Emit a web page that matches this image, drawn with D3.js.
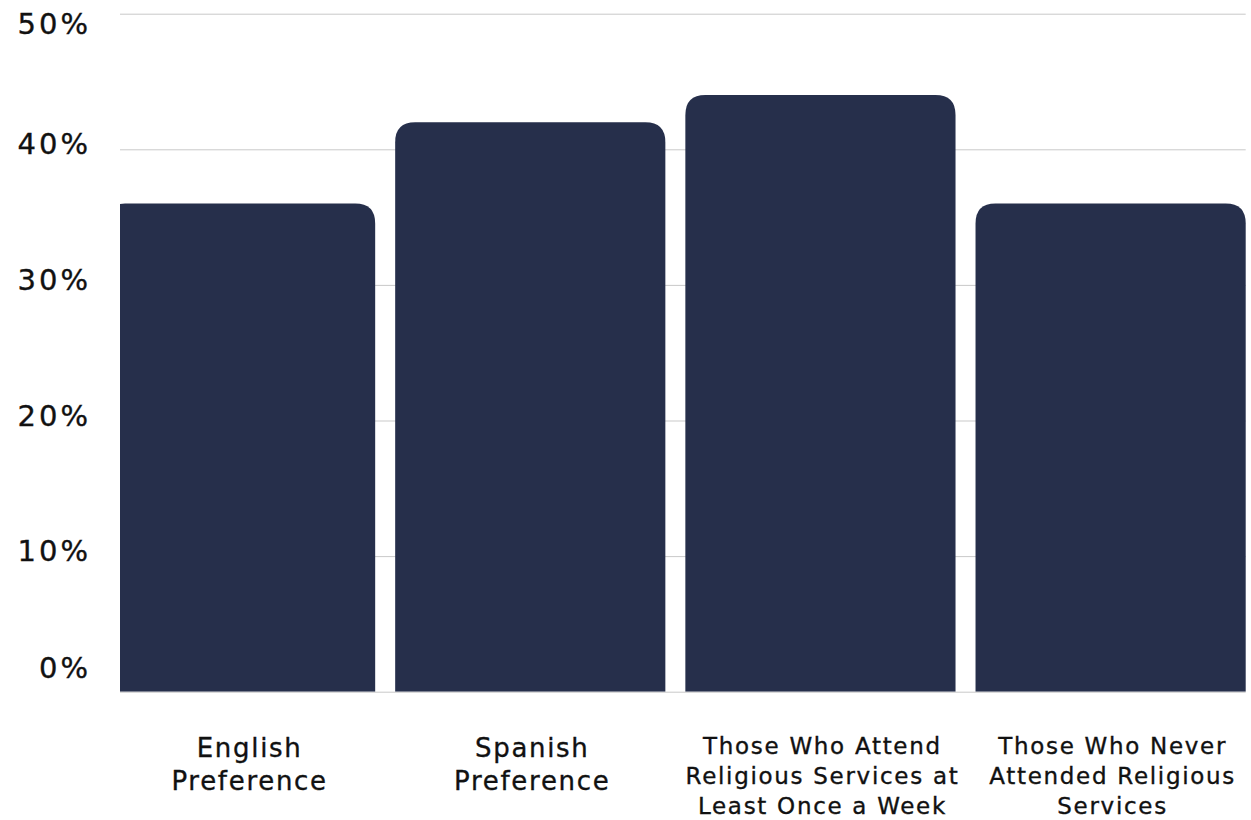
<!DOCTYPE html>
<html>
<head>
<meta charset="utf-8">
<script src="https://cdn.jsdelivr.net/npm/d3@7"></script>
<style>
  html, body { margin: 0; padding: 0; background: #ffffff; }
  svg { display: block; }
  text { font-family: "DejaVu Sans", sans-serif; fill: #111111; stroke: #111111; stroke-width: 0.35px; }
</style>
</head>
<body>
<svg id="chart" width="1251" height="820"></svg>
<script>
// ---- data ----
const categories = [
  "English Preference",
  "Spanish Preference",
  "Those Who Attend Religious Services at Least Once a Week",
  "Those Who Never Attended Religious Services"
];
const categoryLines = [
  ["English", "Preference"],
  ["Spanish", "Preference"],
  ["Those Who Attend", "Religious Services at", "Least Once a Week"],
  ["Those Who Never", "Attended Religious", "Services"]
];
const values = [36, 42, 44, 36];
const yTicks = [0, 10, 20, 30, 40, 50];
const yTickLabels = ["0%", "10%", "20%", "30%", "40%", "50%"];

// ---- layout ----
const W = 1251, H = 820;
const plotLeft = 120, plotRight = 1245.7, plotTop = 13.7, plotBottom = 691.7;
const barColor = "#262f4b";
const gridColor = "#c9c9c9";
const radius = 20;

const svg = d3.select("#chart");

const y = d3.scaleLinear().domain([0, 50]).range([plotBottom, plotTop]);
const x = d3.scaleBand()
  .domain(categories)
  .range([105, plotRight])
  .paddingInner(20 / 290.2)
  .paddingOuter(0);

// gridlines
const grid = svg.append("g")
  .attr("transform", `translate(${plotLeft},0)`)
  .call(d3.axisRight(y).tickValues(yTicks).tickSize(plotRight - plotLeft).tickFormat(""));
grid.select(".domain").remove();
grid.selectAll(".tick line").attr("stroke", gridColor).attr("stroke-width", 1);

// clip for plot area
svg.append("defs").append("clipPath").attr("id", "plotClip")
  .append("rect").attr("x", plotLeft).attr("y", 0).attr("width", plotRight - plotLeft + 1).attr("height", plotBottom);

function topRoundedPath(x0, y0, w, h, r) {
  r = Math.min(r, w / 2, h);
  return `M${x0},${y0 + h}` +
    `L${x0},${y0 + r}` +
    `Q${x0},${y0} ${x0 + r},${y0}` +
    `L${x0 + w - r},${y0}` +
    `Q${x0 + w},${y0} ${x0 + w},${y0 + r}` +
    `L${x0 + w},${y0 + h}Z`;
}

svg.append("g").attr("clip-path", "url(#plotClip)")
  .selectAll("path.bar")
  .data(values)
  .join("path")
  .attr("class", "bar")
  .attr("fill", barColor)
  .attr("d", (d, i) => {
    const x0 = x(categories[i]);
    const y0 = y(d);
    return topRoundedPath(x0, y0, x.bandwidth(), y(0) - y0, radius);
  });

// y tick labels
svg.append("g").selectAll("text.ytick")
  .data(yTicks)
  .join("text")
  .attr("class", "ytick")
  .attr("text-anchor", "end")
  .attr("dominant-baseline", "central")
  .attr("x", 91)
  .attr("y", d => Math.max(24, Math.min(668, y(d) - 5)))
  .style("font-size", "29px")
  .style("letter-spacing", "3px")
  .text((d, i) => yTickLabels[i]);

// x category labels
const xl = svg.append("g").selectAll("text.xlabel")
  .data(categoryLines)
  .join("text")
  .attr("class", "xlabel")
  .attr("text-anchor", "middle")
  .style("font-size", d => d.length > 2 ? "23px" : "26px")
  .style("letter-spacing", "1.7px")
  .attr("transform", (d, i) => {
    const left = Math.max(plotLeft, x(categories[i]));
    const right = x(categories[i]) + x.bandwidth();
    const top = d.length > 2 ? 754 : 757;
    return `translate(${(left + right) / 2 + 2},${top})`;
  });
xl.each(function(lines) {
  const lh = lines.length > 2 ? 30 : 33.3;
  d3.select(this).selectAll("tspan")
    .data(lines)
    .join("tspan")
    .attr("x", 0)
    .attr("y", (d, j) => j * lh)
    .text(d => d);
});
</script>
</body>
</html>
